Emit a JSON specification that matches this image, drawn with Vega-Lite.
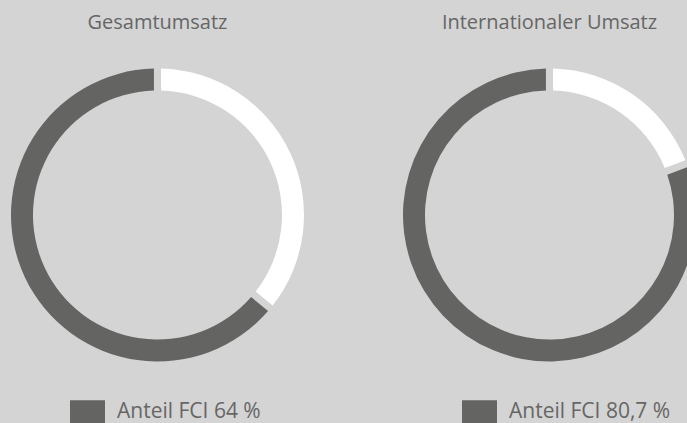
{
  "$schema": "https://vega.github.io/schema/vega-lite/v6.json",
  "background": "#d4d4d4",
  "padding": {"top": 13, "left": 0, "right": 0, "bottom": 0},
  "spacing": 77,
  "config": {
    "view": {"stroke": null},
    "font": "Open Sans",
    "title": {"fontSize": 20, "fontWeight": "normal", "color": "#666666", "anchor": "middle", "offset": 32},
    "legend": {
      "orient": "none",
      "legendX": 70,
      "legendY": 329,
      "padding": 0,
      "title": null,
      "symbolType": "M-1,-0.65H1V0.65H-1Z",
      "symbolSize": 1225,
      "symbolStrokeWidth": 0,
      "symbolOpacity": 1,
      "labelFontSize": 21,
      "labelColor": "#666666",
      "labelOffset": 12,
      "labelLimit": 400,
      "labelFont": "Open Sans"
    }
  },
  "datasets": {
    "gesamt": [
      {"segment": "Anteil FCI 64 %", "value": 64},
      {"segment": "Rest", "value": 36}
    ],
    "intl": [
      {"segment": "Anteil FCI 80,7 %", "value": 80.7},
      {"segment": "Rest", "value": 19.3}
    ]
  },
  "resolve": {"scale": {"color": "independent", "theta": "independent"}, "legend": {"color": "independent"}},
  "hconcat": [
    {
      "title": "Gesamtumsatz",
      "width": 315,
      "height": 300,
      "data": {"name": "gesamt"},
      "mark": {"type": "arc", "outerRadius": 146.5, "innerRadius": 124.5, "padAngle": 0.037},
      "encoding": {
        "theta": {"field": "value", "type": "quantitative", "stack": true},
        "color": {
          "field": "segment",
          "type": "nominal",
          "scale": {"range": ["#646462", "#ffffff"]},
          "legend": {"values": ["Anteil FCI 64 %"]}
        },
        "order": {"field": "segment", "sort": "descending"}
      }
    },
    {
      "title": "Internationaler Umsatz",
      "width": 315,
      "height": 300,
      "data": {"name": "intl"},
      "mark": {"type": "arc", "outerRadius": 146.5, "innerRadius": 124.5, "padAngle": 0.037},
      "encoding": {
        "theta": {"field": "value", "type": "quantitative", "stack": true},
        "color": {
          "field": "segment",
          "type": "nominal",
          "scale": {"range": ["#646462", "#ffffff"]},
          "legend": {"values": ["Anteil FCI 80,7 %"]}
        },
        "order": {"field": "segment", "sort": "descending"}
      }
    }
  ]
}
